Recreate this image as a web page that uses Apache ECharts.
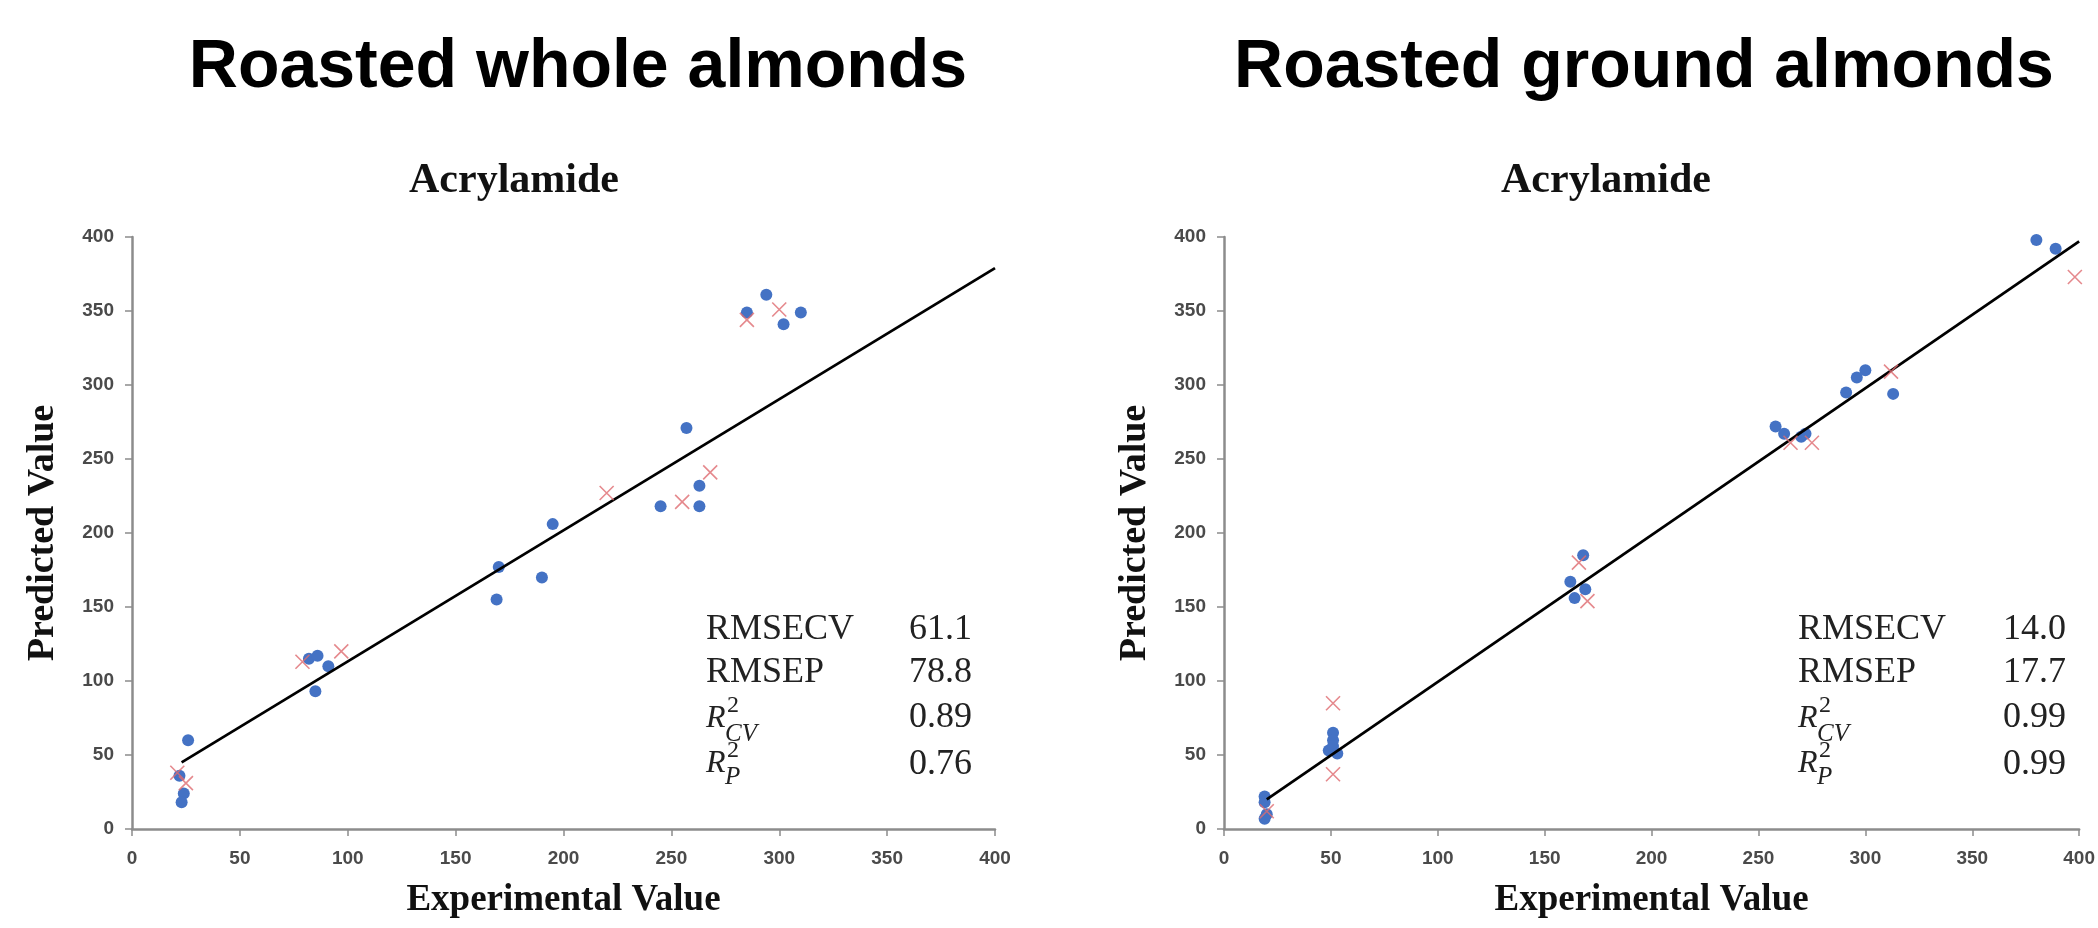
<!DOCTYPE html>
<html>
<head>
<meta charset="utf-8">
<script src="https://cdn.jsdelivr.net/npm/echarts@6/dist/echarts.min.js"></script>
<style>html,body{margin:0;padding:0;background:#fff;}#chart{width:2098px;height:928px;}</style>
</head>
<body>
<div id="chart"></div>
<script>
// ---- data ----
const panelTitles = ['Roasted whole almonds', 'Roasted ground almonds'];
const chartSubtitle = 'Acrylamide';
const xAxisTitle = 'Experimental Value';
const yAxisTitle = 'Predicted Value';
const axisTicks = [0, 50, 100, 150, 200, 250, 300, 350, 400];

// Roasted whole almonds: calibration (blue dots)
const wholeCalX = [22, 24, 23, 26, 82, 86, 85, 91, 169, 170, 190, 195, 245, 257, 263, 263, 285, 294, 302, 310];
const wholeCalY = [36, 24, 18, 60, 115, 117, 93, 110, 155, 177, 170, 206, 218, 271, 218, 232, 349, 361, 341, 349];
// Roasted whole almonds: validation (red crosses)
const wholeValX = [21, 25, 79, 97, 220, 255, 268, 285, 300];
const wholeValY = [38, 31, 113, 120, 227, 221, 241, 344, 351];
// fitted line end points
const wholeFitX = [23, 400];
const wholeFitY = [45, 379];

// Roasted ground almonds
const groundCalX = [19, 19, 20, 19, 49, 51, 51, 51, 53, 162, 164, 168, 169, 258, 262, 270, 272, 291, 296, 300, 313, 380, 389];
const groundCalY = [22, 18, 10, 7, 53, 65, 60, 56, 51, 167, 156, 185, 162, 272, 267, 265, 267, 295, 305, 310, 294, 398, 392];
const groundValX = [20, 51, 51, 166, 170, 265, 275, 312, 398];
const groundValY = [12, 85, 37, 180, 154, 261, 261, 309, 373];
const groundFitX = [20, 400];
const groundFitY = [20, 397];

// statistics
const statNames = ['RMSECV', 'RMSEP'];
const wholeStats = ['61.1', '78.8', '0.89', '0.76'];
const groundStats = ['14.0', '17.7', '0.99', '0.99'];

// ---- build ----
const zip = (xs, ys) => xs.map((x, i) => [x, ys[i]]);
const BLUE = '#4472C4';
const RED = '#DE6B70';
const AXIS = '#8C8C8C';
const SERIF = '"Liberation Serif","Times New Roman",serif';
const SANS = '"Liberation Sans",Arial,sans-serif';

const grids = [
  { left: 132, top: 237, width: 863, height: 592 },
  { left: 1224, top: 237, width: 861, height: 592 }
];

function mkX(i) {
  return {
    type: 'value', gridIndex: i, min: axisTicks[0], max: axisTicks[axisTicks.length - 1], interval: 50,
    name: xAxisTitle, nameLocation: 'middle', nameGap: 53,
    nameTextStyle: { fontFamily: SERIF, fontWeight: 'bold', fontSize: 37, color: '#111' },
    axisLine: { show: true, lineStyle: { color: AXIS, width: 2.5 } },
    axisTick: { show: true, inside: false, length: 7, lineStyle: { color: AXIS, width: 1.5 } },
    axisLabel: { margin: 20, fontFamily: SANS, fontWeight: 'bold', fontSize: 19, color: '#4a4a4a' },
    splitLine: { show: false }
  };
}
function mkY(i) {
  return {
    type: 'value', gridIndex: i, min: axisTicks[0], max: axisTicks[axisTicks.length - 1], interval: 50,
    name: yAxisTitle, nameLocation: 'middle', nameGap: 70, nameRotate: 90,
    nameTextStyle: { fontFamily: SERIF, fontWeight: 'bold', fontSize: 38, color: '#111' },
    axisLine: { show: true, lineStyle: { color: AXIS, width: 2.5 } },
    axisTick: { show: true, inside: false, length: 7, lineStyle: { color: AXIS, width: 1.5 } },
    axisLabel: { margin: 18, fontFamily: SANS, fontWeight: 'bold', fontSize: 19, color: '#4a4a4a' },
    splitLine: { show: false }
  };
}
function seriesFor(i, calX, calY, valX, valY, fitX, fitY) {
  return [
    { type: 'scatter', xAxisIndex: i, yAxisIndex: i, data: zip(calX, calY), symbol: 'circle', symbolSize: 12,
      itemStyle: { color: BLUE, opacity: 1 }, z: 2, silent: true },
    { type: 'line', xAxisIndex: i, yAxisIndex: i, data: zip(fitX, fitY), showSymbol: false, symbol: 'none',
      lineStyle: { color: '#000', width: 2.8 }, z: 3, silent: true },
    { type: 'scatter', xAxisIndex: i, yAxisIndex: i, data: zip(valX, valY),
      symbol: 'path://M0,0L10,10M10,0L0,10', symbolSize: 14,
      itemStyle: { color: 'none', borderColor: RED, borderWidth: 1.6 }, z: 4, silent: true }
  ];
}

function txt(x, y, text, font, align, color) {
  return { type: 'text', x: x, y: y, silent: true,
    style: { text: text, font: font, fill: color || '#111', align: align || 'left', verticalAlign: 'middle',
             textAlign: align || 'left', textVerticalAlign: 'middle' } };
}
function statGraphics(lx, rx, vals) {
  const g = [];
  g.push(txt(lx, 630, statNames[0], '36px ' + SERIF, 'left', '#222'));
  g.push(txt(lx, 673, statNames[1], '36px ' + SERIF, 'left', '#222'));
  g.push(txt(lx, 719, 'R', 'italic 32px ' + SERIF, 'left', '#222'));
  g.push(txt(lx + 21, 706, '2', '24px ' + SERIF, 'left', '#222'));
  g.push(txt(lx + 19, 734, 'CV', 'italic 25px ' + SERIF, 'left', '#222'));
  g.push(txt(lx, 764, 'R', 'italic 32px ' + SERIF, 'left', '#222'));
  g.push(txt(lx + 21, 751, '2', '24px ' + SERIF, 'left', '#222'));
  g.push(txt(lx + 19, 777, 'P', 'italic 25px ' + SERIF, 'left', '#222'));
  const ys = [630, 673, 718, 765];
  vals.forEach((v, k) => g.push(txt(rx, ys[k], v, '36px ' + SERIF, 'right', '#222')));
  return g;
}

const graphics = [
  txt(578, 68, panelTitles[0], 'bold 68px ' + SANS, 'center', '#000'),
  txt(1644, 68, panelTitles[1], 'bold 68px ' + SANS, 'center', '#000'),
  txt(514, 181, chartSubtitle, 'bold 42px ' + SERIF, 'center', '#111'),
  txt(1606, 181, chartSubtitle, 'bold 42px ' + SERIF, 'center', '#111')
].concat(statGraphics(706, 972, wholeStats)).concat(statGraphics(1798, 2066, groundStats));

const chart = echarts.init(document.getElementById('chart'), null, { renderer: 'canvas' });
chart.setOption({
  animation: false,
  backgroundColor: '#fff',
  grid: grids,
  xAxis: [mkX(0), mkX(1)],
  yAxis: [mkY(0), mkY(1)],
  series: seriesFor(0, wholeCalX, wholeCalY, wholeValX, wholeValY, wholeFitX, wholeFitY)
    .concat(seriesFor(1, groundCalX, groundCalY, groundValX, groundValY, groundFitX, groundFitY)),
  graphic: graphics
});
</script>
</body>
</html>
